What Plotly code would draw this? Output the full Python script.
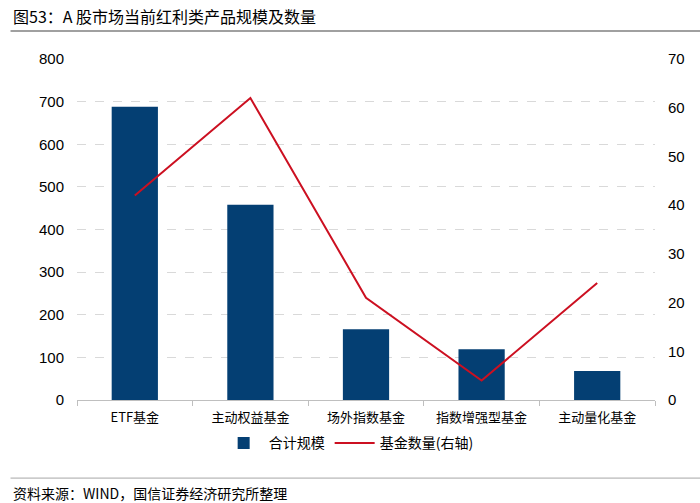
import plotly.graph_objects as go

categories = ["ETF基金", "主动权益基金", "场外指数基金", "指数增强型基金", "主动量化基金"]
scale_values = [688, 458, 166, 119, 68]
count_values = [42, 62, 21, 4, 24]

font_main = "Liberation Sans, Arial, Noto Sans CJK SC, sans-serif"

fig = go.Figure()
fig.add_trace(go.Bar(
    x=categories, y=scale_values, name="合计规模",
    marker=dict(color="#043F73", line=dict(width=0)),
    width=0.4, yaxis="y",
))
fig.add_trace(go.Scatter(
    x=categories, y=count_values, name="基金数量(右轴)",
    mode="lines", line=dict(color="#CC1021", width=2),
    yaxis="y2",
))

fig.update_layout(
    width=700, height=503,
    margin=dict(l=77, r=45, t=59, b=103),
    paper_bgcolor="white", plot_bgcolor="white",
    font=dict(family=font_main, size=14, color="#000000"),
    showlegend=True,
    legend=dict(orientation="h", x=0.47, xanchor="center", y=-0.08, yanchor="top",
                font=dict(size=14, family="Noto Sans CJK SC, sans-serif"),
                itemwidth=40, traceorder="normal"),
    xaxis=dict(
        showline=True, linecolor="#BFBFBF", linewidth=1,
        ticks="outside", tickcolor="#BFBFBF", ticklen=5,
        tickson="boundaries", ticklabelstandoff=5,
        tickfont=dict(size=13, family="Noto Sans CJK SC, sans-serif"),
        showgrid=False,
    ),
    yaxis=dict(
        range=[0, 800], dtick=100, showgrid=True,
        gridcolor="#D9D9D9", griddash="dash", gridwidth=1,
        zeroline=False, showline=False,
        tickfont=dict(size=15, family=font_main), ticks="", ticklabelstandoff=12,
    ),
    yaxis2=dict(
        range=[0, 70], dtick=10, overlaying="y", side="right",
        showgrid=False, zeroline=False, showline=False,
        tickfont=dict(size=15, family=font_main), ticks="", ticklabelstandoff=12,
    ),
    bargap=0.6,
)

fig.add_annotation(
    text="图53：A 股市场当前红利类产品规模及数量", xref="paper", yref="paper",
    x=-0.115, y=1.126, xanchor="left", yanchor="middle", showarrow=False,
    font=dict(size=16, family="Noto Sans CJK SC, sans-serif", color="#000000"),
)
fig.add_shape(type="line", xref="paper", yref="paper", x0=-0.115, x1=1.08,
              y0=1.082, y1=1.082, line=dict(color="#808080", width=1.5))
fig.add_shape(type="line", xref="paper", yref="paper", x0=-0.115, x1=1.08,
              y0=-0.229, y1=-0.229, line=dict(color="#A6A6A6", width=1))
fig.add_annotation(
    text="资料来源：WIND，国信证券经济研究所整理", xref="paper", yref="paper",
    x=-0.115, y=-0.273, xanchor="left", yanchor="middle", showarrow=False,
    font=dict(size=14, family="Noto Sans CJK SC, sans-serif", color="#000000"),
)

fig.write_html("out.html", config={"displayModeBar": False},
               post_script="document.body.style.margin='0';")
